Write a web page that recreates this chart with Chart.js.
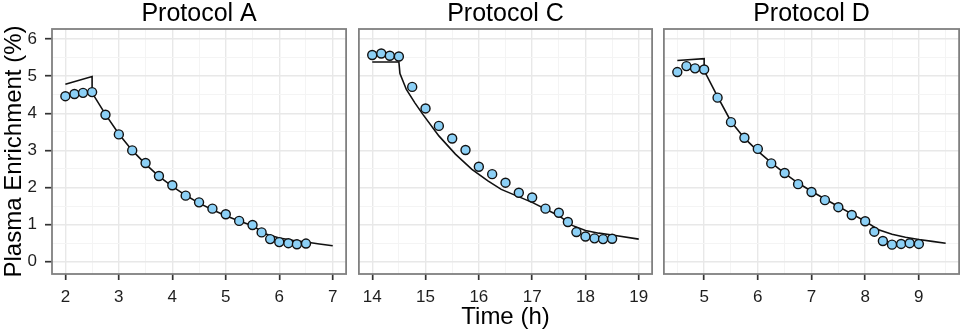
<!DOCTYPE html>
<html>
<head>
<meta charset="utf-8">
<script src="https://cdn.jsdelivr.net/npm/chart.js@4/dist/chart.umd.min.js"></script>
<style>
  html, body { margin: 0; padding: 0; background: #fff; }
  #wrap { position: relative; width: 965px; height: 334px; overflow: hidden; }
  .panel { position: absolute; top: 0; height: 334px; }
</style>
</head>
<body>
<div id="wrap">
  <div class="panel" style="left:0;width:352px"><canvas id="chartA"></canvas></div>
  <div class="panel" style="left:353px;width:305px"><canvas id="chartC"></canvas></div>
  <div class="panel" style="left:658px;width:307px"><canvas id="chartD"></canvas></div>
</div>
<script>
// Protocol A - mesures
const timeA = [2.0, 2.17, 2.33, 2.5, 2.75, 3.0, 3.25, 3.5, 3.75, 4.0, 4.25, 4.5, 4.75, 5.0, 5.25, 5.5, 5.67, 5.83, 6.0, 6.17, 6.33, 6.5];
const enrichA = [4.46, 4.52, 4.55, 4.57, 3.96, 3.43, 3.0, 2.66, 2.31, 2.06, 1.78, 1.60, 1.43, 1.28, 1.10, 0.99, 0.79, 0.61, 0.53, 0.50, 0.47, 0.49];
// Protocol A - modèle
const fitTimeA = [2.0, 2.5, 2.5, 2.75, 3.0, 3.25, 3.5, 3.75, 4.0, 4.25, 4.5, 4.75, 5.0, 5.25, 5.5, 5.75, 6.0, 6.25, 6.5, 6.75, 7.0];
const fitA = [4.78, 4.99, 4.55, 3.97, 3.44, 3.0, 2.63, 2.3, 2.03, 1.79, 1.58, 1.40, 1.24, 1.10, 0.97, 0.75, 0.64, 0.58, 0.53, 0.48, 0.43];

// Protocol C - mesures
const timeC = [14.0, 14.17, 14.33, 14.5, 14.75, 15.0, 15.25, 15.5, 15.75, 16.0, 16.25, 16.5, 16.75, 17.0, 17.25, 17.5, 17.67, 17.83, 18.0, 18.17, 18.33, 18.5];
const enrichC = [5.57, 5.61, 5.55, 5.53, 4.71, 4.13, 3.66, 3.32, 3.01, 2.56, 2.36, 2.13, 1.86, 1.73, 1.43, 1.32, 1.07, 0.80, 0.68, 0.63, 0.61, 0.62];
// Protocol C - modèle
const fitTimeC = [14.0, 14.5, 14.52, 14.64, 14.8, 14.95, 15.25, 15.56, 15.87, 16.17, 16.42, 17.0, 17.5, 17.75, 18.0, 18.25, 18.5, 19.0];
const fitC = [5.38, 5.38, 5.07, 4.64, 4.28, 3.97, 3.39, 2.90, 2.49, 2.18, 1.95, 1.60, 1.24, 0.98, 0.84, 0.77, 0.72, 0.61];

// Protocol D - mesures
const timeD = [4.5, 4.67, 4.83, 5.0, 5.25, 5.5, 5.75, 6.0, 6.25, 6.5, 6.75, 7.0, 7.25, 7.5, 7.75, 8.0, 8.17, 8.33, 8.5, 8.67, 8.83, 9.0];
const enrichD = [5.11, 5.27, 5.21, 5.18, 4.42, 3.76, 3.34, 3.04, 2.65, 2.39, 2.09, 1.88, 1.66, 1.47, 1.26, 1.09, 0.81, 0.56, 0.46, 0.48, 0.50, 0.48];
// Protocol D - modèle
const fitTimeD = [4.5, 5.0, 5.0, 5.25, 5.5, 5.75, 6.0, 6.25, 6.5, 6.75, 7.0, 7.25, 7.5, 7.75, 8.0, 8.25, 8.5, 8.75, 9.0, 9.25, 9.5];
const fitD = [5.42, 5.47, 5.15, 4.45, 3.78, 3.33, 2.98, 2.67, 2.38, 2.12, 1.90, 1.69, 1.49, 1.29, 1.09, 0.86, 0.74, 0.66, 0.60, 0.55, 0.50];

// Graduations principales
const yTicks = [0, 1, 2, 3, 4, 5, 6];
const xTicksA = [2, 3, 4, 5, 6, 7];
const xTicksC = [14, 15, 16, 17, 18, 19];
const xTicksD = [5, 6, 7, 8, 9];

const FONT = "'Liberation Sans', Arial, sans-serif";

function isMajor(v) {
    return Math.abs(v - Math.round(v)) < 1e-6;
}

function toXY(xs, ys) {
    return xs.map((x, i) => ({ x: x, y: ys[i] }));
}

// grille principale + secondaire (demi-unités)
function withMinor(major, min, max) {
    const vals = [];
    major.forEach(v => {
        vals.push(v);
        if (v - 0.5 > min && !major.includes(v - 1)) vals.push(v - 0.5);
        if (v + 0.5 < max) vals.push(v + 0.5);
    });
    return vals.sort((a, b) => a - b);
}

// Titre de panneau centré sur la zone de tracé + cadre gris
const panelPlugin = {
    id: 'panelFrame',
    afterDraw(chart, args, opts) {
        const { ctx, chartArea: a } = chart;
        ctx.save();
        ctx.strokeStyle = '#808080';
        ctx.lineWidth = 1.8;
        ctx.strokeRect(a.left, a.top, a.right - a.left, a.bottom - a.top);
        ctx.fillStyle = '#000';
        ctx.font = '25px ' + FONT;
        ctx.textAlign = 'center';
        ctx.textBaseline = 'middle';
        ctx.fillText(opts.text, (a.left + a.right) / 2, 14);
        ctx.restore();
    }
};

const gridColor = c => isMajor(c.tick.value) ? '#e8e8e8' : '#f4f4f4';
const gridWidth = c => isMajor(c.tick.value) ? 1.4 : 1;
const tickMarkColor = c => isMajor(c.tick.value) ? '#333' : 'rgba(0,0,0,0)';

function makePanel(id, title, times, values, fitTimes, fitValues, xTicks, xMin, xMax, pad, showY, xTitle) {
    const ctx = document.getElementById(id).getContext('2d');
    const yMin = -0.33, yMax = 6.27;
    return new Chart(ctx, {
        type: 'scatter',
        data: {
            datasets: [{
                label: 'mesures',
                data: toXY(times, values),
                backgroundColor: '#8cd0f6',
                borderColor: '#111',
                borderWidth: 1.4,
                pointRadius: 4.5,
                order: 0
            }, {
                label: 'modèle',
                data: toXY(fitTimes, fitValues),
                showLine: true,
                borderColor: '#111',
                borderWidth: 1.6,
                pointRadius: 0,
                tension: 0,
                order: 1
            }]
        },
        options: {
            responsive: true,
            maintainAspectRatio: false,
            animation: false,
            layout: { padding: pad },
            scales: {
                x: {
                    type: 'linear',
                    min: xMin,
                    max: xMax,
                    afterBuildTicks: function(scale) {
                        scale.ticks = withMinor(xTicks, xMin, xMax).map(v => ({ value: v }));
                    },
                    afterFit: function(scale) { scale.height = 60; },
                    ticks: {
                        autoSkip: false,
                        maxRotation: 0,
                        padding: 7,
                        color: '#1e1e1e',
                        font: { size: 17, family: FONT },
                        callback: function(v) { return xTicks.includes(v) ? String(v) : ''; }
                    },
                    grid: {
                        color: gridColor,
                        lineWidth: gridWidth,
                        tickColor: tickMarkColor,
                        tickWidth: 1.7,
                        tickLength: 6
                    },
                    border: { display: false },
                    title: {
                        display: !!xTitle,
                        text: xTitle || '',
                        color: '#000',
                        font: { size: 24, family: FONT, lineHeight: 1.2 },
                        padding: { top: 0, bottom: 2 }
                    }
                },
                y: {
                    min: yMin,
                    max: yMax,
                    afterBuildTicks: function(scale) {
                        scale.ticks = withMinor(yTicks, yMin, yMax).map(v => ({ value: v }));
                    },
                    afterFit: function(scale) { scale.width = showY ? 52 : 0; },
                    ticks: {
                        display: showY,
                        autoSkip: false,
                        padding: 8,
                        color: '#1e1e1e',
                        font: { size: 17, family: FONT },
                        callback: function(v) { return yTicks.includes(v) ? String(v) : ''; }
                    },
                    grid: {
                        color: gridColor,
                        lineWidth: gridWidth,
                        drawTicks: showY,
                        tickColor: tickMarkColor,
                        tickWidth: 1.7,
                        tickLength: 7
                    },
                    border: { display: false },
                    title: {
                        display: showY,
                        text: 'Plasma Enrichment (%)',
                        color: '#000',
                        font: { size: 24, family: FONT, lineHeight: 1.2 },
                        padding: { top: 0, bottom: 0 }
                    }
                }
            },
            plugins: {
                legend: { display: false },
                tooltip: { enabled: false },
                panelFrame: { text: title }
            }
        },
        plugins: [panelPlugin]
    });
}

makePanel('chartA', 'Protocol A', timeA, enrichA, fitTimeA, fitA, xTicksA, 1.75, 7.25,
    { top: 29, right: 3, left: 0, bottom: 0 }, true, null);
makePanel('chartC', 'Protocol C', timeC, enrichC, fitTimeC, fitC, xTicksC, 13.75, 19.25,
    { top: 29, right: 3, left: 4, bottom: 0 }, false, 'Time (h)');
makePanel('chartD', 'Protocol D', timeD, enrichD, fitTimeD, fitD, xTicksD, 4.25, 9.75,
    { top: 29, right: 4, left: 5, bottom: 0 }, false, null);
</script>
</body>
</html>
